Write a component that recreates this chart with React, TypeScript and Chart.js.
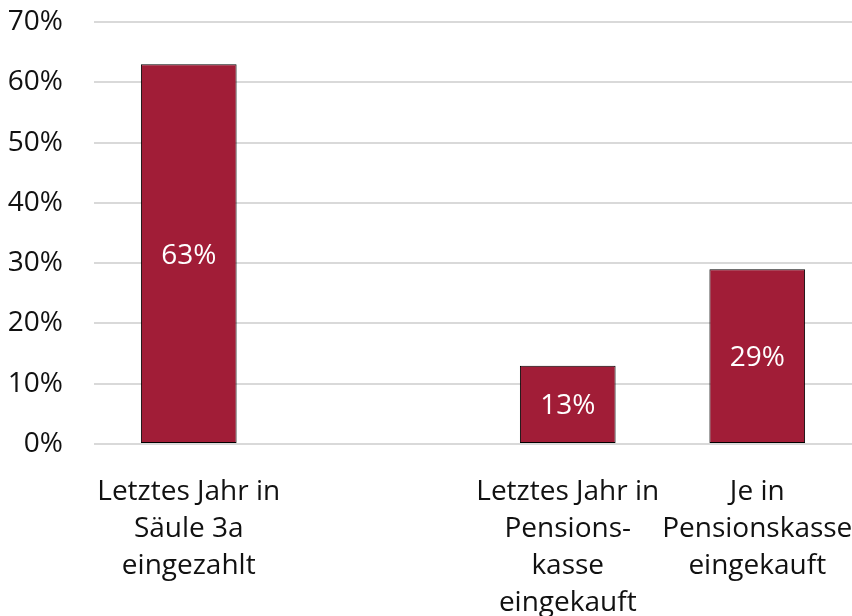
import React, { useEffect, useRef } from "react";
import { Chart, registerables } from "chart.js";

Chart.register(...registerables);

const categories: (string | string[])[] = [
  ["Letztes Jahr in", "Säule 3a", "eingezahlt"],
  "",
  ["Letztes Jahr in", "Pensions-", "kasse", "eingekauft"],
  ["Je in", "Pensionskasse", "eingekauft"],
];
const values: (number | null)[] = [63, null, 13, 29];
const yTicks = [0, 10, 20, 30, 40, 50, 60, 70];

const FONT = "'Open Sans', sans-serif";
const BAR = "#A11D37";

const labelPlugin = {
  id: "barLabels",
  afterDatasetsDraw(chart: any) {
    const ctx = chart.ctx;
    const meta = chart.getDatasetMeta(0);
    ctx.save();
    ctx.fillStyle = "#ffffff";
    ctx.font = `28px ${FONT}`;
    ctx.textAlign = "center";
    ctx.textBaseline = "middle";
    meta.data.forEach((bar: any, i: number) => {
      const v = values[i];
      if (v == null) return;
      const y = (bar.y + bar.base) / 2 + 2;
      ctx.fillText(`${v}%`, bar.x, y);
    });
    ctx.restore();
  },
};

function zeroPad(scale: any) {
  scale.paddingTop = 0;
  scale.paddingBottom = 0;
  scale.paddingLeft = 0;
  scale.paddingRight = 0;
}

export default function App() {
  const ref = useRef<HTMLCanvasElement | null>(null);
  useEffect(() => {
    document.body.style.margin = "0";
    const chart = new Chart(ref.current!, {
      type: "bar",
      data: {
        labels: categories,
        datasets: [
          {
            data: values,
            backgroundColor: BAR,
            borderColor: "#000000",
            borderWidth: 1,
            borderSkipped: false,
            categoryPercentage: 1,
            barPercentage: 0.505,
          },
        ],
      },
      options: {
        animation: false,
        responsive: false,
        maintainAspectRatio: false,
        layout: { padding: { top: 22, right: -2, left: 0, bottom: 0 } },
        plugins: { legend: { display: false }, tooltip: { enabled: false } },
        scales: {
          x: {
            grid: { display: false },
            border: { display: false },
            ticks: {
              color: "#111",
              font: { family: FONT, size: 28, lineHeight: 1.32 },
              maxRotation: 0,
              autoSkip: false,
              padding: 22,
            },
            afterFit(scale: any) {
              scale.height = 172;
              zeroPad(scale);
            },
          },
          y: {
            min: 0,
            max: 70,
            afterBuildTicks(scale: any) {
              scale.ticks = yTicks.map((v) => ({ value: v }));
            },
            grid: { color: "#d9d9d9", lineWidth: 2, drawTicks: false },
            border: { display: false },
            ticks: {
              color: "#111",
              font: { family: FONT, size: 28 },
              padding: 31,
              callback: (v: any) => `${v}%`,
            },
            afterFit(scale: any) {
              scale.width = 94;
              zeroPad(scale);
            },
          },
        },
      },
      plugins: [labelPlugin],
    });
    return () => chart.destroy();
  }, []);
  return <canvas ref={ref} width={852} height={616} style={{ display: "block" }} />;
}
